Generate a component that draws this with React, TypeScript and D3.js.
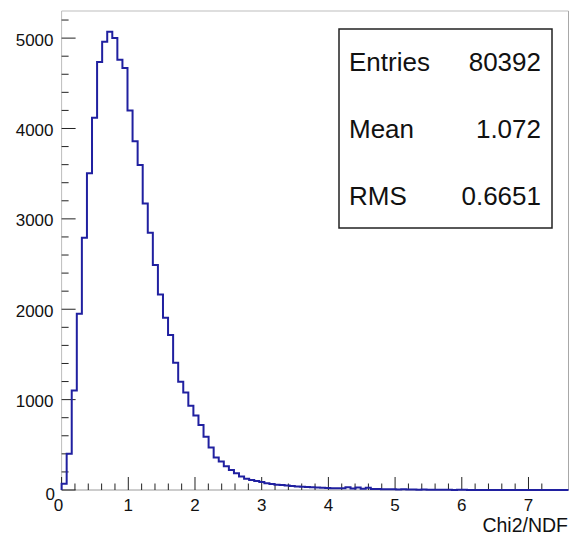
import React from "react";
import * as d3 from "d3";

const binCounts: number[] = [
  70, 400, 1100, 1950, 2790, 3505, 4120, 4735, 4960, 5070,
  5000, 4760, 4670, 4200, 3860, 3595, 3171, 2847, 2489, 2164,
  1906, 1715, 1408, 1198, 1080, 933, 823, 719, 590, 470,
  360, 315, 262, 222, 185, 150, 125, 110, 100, 88,
  75, 66, 58, 55, 50, 45, 40, 37, 34, 30,
  28, 24, 22, 20, 18, 19, 30, 16, 28, 14,
  25, 12, 10, 9, 8, 9, 6, 7, 5, 5,
  4, 6, 3, 4, 2, 3, 2, 1, 2, 2,
  1, 1, 0, 1, 0, 1, 0, 0, 1, 0,
  0, 1, 0, 0, 0, 1, 0, 0, 0, 0,
];
const xMin = 0;
const xMax = 7.6;
const yMax = 5300;
const xTickValues: number[] = [0, 1, 2, 3, 4, 5, 6, 7];
const yTickValues: number[] = [0, 1000, 2000, 3000, 4000, 5000];
const statLabels: string[] = ["Entries", "Mean", "RMS"];
const statValues: string[] = ["80392", "1.072", "0.6651"];
const xTitle = "Chi2/NDF";

const W = 569;
const H = 535;
const left = 61.6;
const right = 568.5;
const top = 11;
const bottom = 490;
const FONT = "'Liberation Sans', Arial, Helvetica, sans-serif";

export default function App() {
  const x = d3.scaleLinear().domain([xMin, xMax]).range([left, right]);
  const y = d3.scaleLinear().domain([0, yMax]).range([bottom, top]);
  const bw = (xMax - xMin) / binCounts.length;

  const pts: [number, number][] = [[xMin, 0]];
  binCounts.forEach((v, i) => pts.push([xMin + i * bw, v]));
  pts.push([xMax, binCounts[binCounts.length - 1]]);
  pts.push([xMax, 0]);
  const line = d3
    .line<[number, number]>()
    .x((d) => x(d[0]))
    .y((d) => y(d[1]))
    .curve(d3.curveStepAfter);

  const xMinor: number[] = d3.range(0, 37).map((i) => i * 0.2).filter((v) => v < xMax - 1e-6 && Math.abs(v - Math.round(v)) > 1e-6);
  const yMinor: number[] = d3.range(0, 27).map((i) => i * 200).filter((v) => v % 1000 !== 0 && v < yMax);

  const statRows = statLabels.map((l, i) => ({ label: l, value: statValues[i] }));

  return (
    <svg
      width={W}
      height={H}
      style={{ position: "absolute", left: 0, top: 0, background: "#fff" }}
      fontFamily={FONT}
    >
      <rect x={0} y={0} width={W} height={H} fill="#fff" />
      {/* frame */}
      <line x1={left} x2={right} y1={top} y2={top} stroke="#bdbdbd" strokeWidth={1} />
      <line x1={right} x2={right} y1={top} y2={bottom} stroke="#a8a8a8" strokeWidth={1} />
      <line x1={left} x2={left} y1={top} y2={bottom} stroke="#bdbdbd" strokeWidth={1} />
      <line x1={left} x2={right} y1={bottom} y2={bottom} stroke="#9a9a9a" strokeWidth={1} />

      {/* y ticks */}
      {yTickValues.map((v) => (
        <line key={"ym" + v} x1={left} x2={left + 14} y1={y(v)} y2={y(v)} stroke="#222" strokeWidth={1} />
      ))}
      {yMinor.map((v) => (
        <line key={"yn" + v} x1={left} x2={left + 7} y1={y(v)} y2={y(v)} stroke="#222" strokeWidth={1} />
      ))}
      {/* x ticks */}
      {xTickValues.map((v) => (
        <line key={"xm" + v} x1={x(v)} x2={x(v)} y1={bottom} y2={bottom - 13} stroke="#222" strokeWidth={1} />
      ))}
      {xMinor.map((v) => (
        <line key={"xn" + v} x1={x(v)} x2={x(v)} y1={bottom} y2={bottom - 6.5} stroke="#222" strokeWidth={1} />
      ))}

      {/* histogram */}
      <path d={line(pts) || ""} fill="none" stroke="#2020a0" strokeWidth={2} />

      {/* y labels */}
      {yTickValues.map((v) => (
        <text
          key={"yl" + v}
          x={v === 0 ? 55 : 53.5}
          y={y(v) + (v === 0 ? 10 : 7.5)}
          textAnchor="end"
          fontSize={17}
          fill="#111"
        >
          {v}
        </text>
      ))}
      {/* x labels */}
      {xTickValues.map((v) => (
        <text
          key={"xl" + v}
          x={x(v) + (v === 0 ? -3 : 0)}
          y={511}
          textAnchor="middle"
          fontSize={17}
          fill="#111"
        >
          {v}
        </text>
      ))}
      <text x={568} y={532} textAnchor="end" fontSize={19.5} fill="#111">
        {xTitle}
      </text>

      {/* stats box */}
      <rect x={339} y={29} width={213} height={199} fill="#fff" stroke="#222" strokeWidth={1.5} />
      {statRows.map((r, i) => (
        <g key={r.label}>
          <text x={349} y={71 + i * 67} fontSize={26} fill="#111">
            {r.label}
          </text>
          <text x={541} y={71 + i * 67} fontSize={26} fill="#111" textAnchor="end">
            {r.value}
          </text>
        </g>
      ))}
    </svg>
  );
}
